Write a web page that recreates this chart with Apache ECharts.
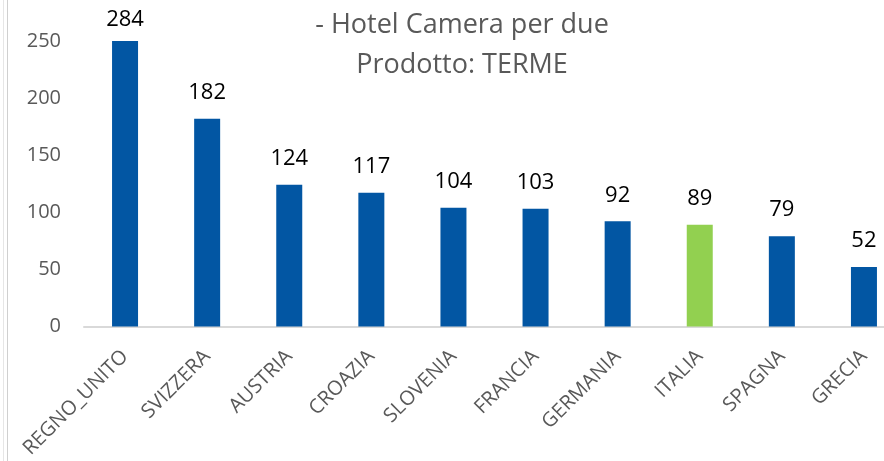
<!DOCTYPE html>
<html>
<head>
    <meta charset="utf-8">
    <title>Hotel Camera per due - TERME</title>
    <script src="https://cdn.jsdelivr.net/npm/echarts@6/dist/echarts.min.js"></script>
    <style>
        html, body { margin: 0; padding: 0; background: #fff; overflow: hidden; width: 884px; height: 461px; }
    </style>
</head>
<body>
<!-- il grafico originale e' tagliato a destra: la tela e' piu' larga della finestra -->
<div id="main" style="width:905px;height:461px;"></div>
<script type="text/javascript">
    // dati
    var paesi = ['REGNO_UNITO', 'SVIZZERA', 'AUSTRIA', 'CROAZIA', 'SLOVENIA', 'FRANCIA', 'GERMANIA', 'ITALIA', 'SPAGNA', 'GRECIA'];
    var valori = [284, 182, 124, 117, 104, 103, 92, 89, 79, 52];
    var evidenziato = 'ITALIA';
    var yTicks = [0, 50, 100, 150, 200, 250];

    var BLU = '#0256a3';
    var VERDE = '#92d050';
    var yMax = yTicks[yTicks.length - 1];

    var myChart = echarts.init(document.getElementById('main'));

    var barData = [];
    for (var i = 0; i < valori.length; i++) {
        var item = {
            value: valori[i],
            itemStyle: { color: paesi[i] === evidenziato ? VERDE : BLU }
        };
        // barra fuori scala: etichetta un po' piu' vicina
        if (valori[i] > yMax) item.label = { distance: 10 };
        barData.push(item);
    }

    var option = {
        backgroundColor: '#ffffff',
        animation: false,
        textStyle: { fontFamily: 'Open Sans' },
        title: {
            text: '- Hotel Camera per due\nProdotto: TERME',
            left: 457,
            textAlign: 'center',
            top: 0,
            textStyle: {
                color: '#595959',
                fontSize: 27,
                fontWeight: 'normal',
                lineHeight: 40,
                fontFamily: 'Open Sans'
            }
        },
        grid: {
            left: 84,
            right: 0,
            top: 41,
            bottom: 132,
            containLabel: false
        },
        xAxis: {
            type: 'category',
            data: paesi,
            axisLine: { lineStyle: { color: '#d9d9d9', width: 2 } },
            axisTick: { show: false },
            axisLabel: {
                rotate: 45,
                interval: 0,
                margin: 27,
                color: '#595959',
                fontSize: 20,
                fontFamily: 'Open Sans'
            }
        },
        yAxis: {
            type: 'value',
            min: yTicks[0],
            max: yMax,
            interval: 50,
            splitLine: { show: false },
            axisLine: { show: false },
            axisTick: { show: false },
            axisLabel: {
                margin: 23,
                color: '#595959',
                fontSize: 20,
                fontFamily: 'Open Sans'
            }
        },
        series: [{
            type: 'bar',
            data: barData,
            barWidth: 26,
            clip: true,
            label: {
                show: true,
                position: 'top',
                distance: 15,
                color: '#000000',
                fontSize: 22,
                fontFamily: 'Open Sans'
            }
        }],
        graphic: [
            { type: 'line', shape: { x1: 3.5, y1: 0, x2: 3.5, y2: 461 }, style: { stroke: '#e6e6e6', lineWidth: 1 } },
            { type: 'line', shape: { x1: 7.5, y1: 0, x2: 7.5, y2: 461 }, style: { stroke: '#d0d0d0', lineWidth: 1 } }
        ]
    };

    myChart.setOption(option);
</script>
</body>
</html>
